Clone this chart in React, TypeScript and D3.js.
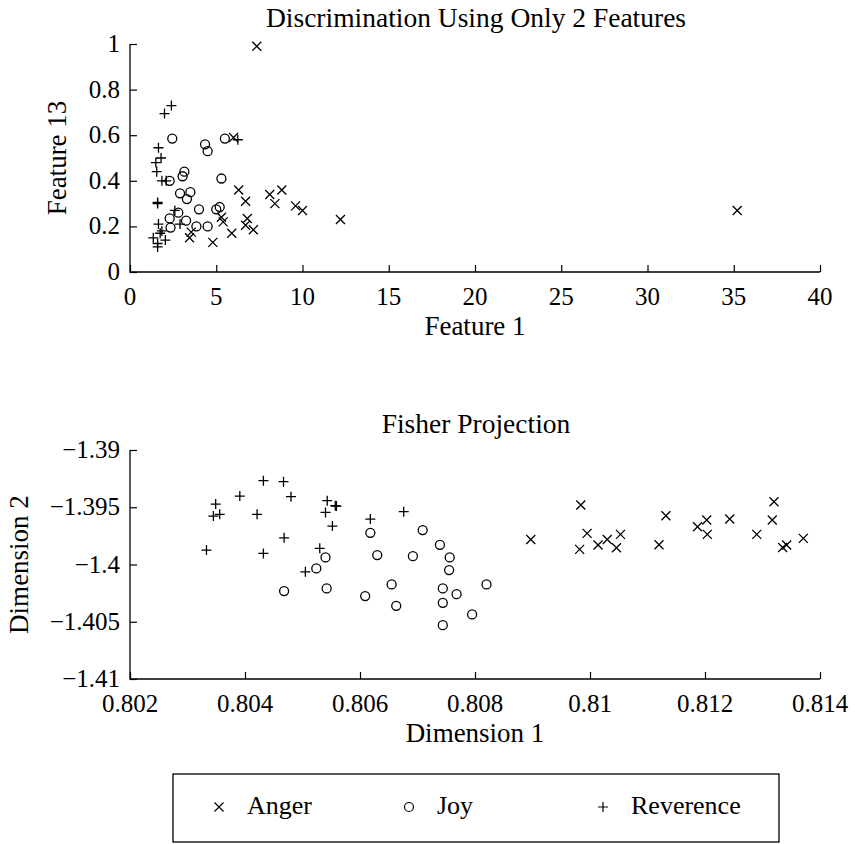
import React, { useEffect, useRef } from "react";
import * as d3 from "d3";

// top plot: Feature 1 vs Feature 13
const topAnger = [
  [7.35, 0.99], [35.2, 0.27], [12.2, 0.23], [6.0, 0.59], [6.3, 0.36],
  [8.1, 0.34], [8.8, 0.36], [6.7, 0.31], [8.4, 0.3], [9.6, 0.29],
  [10.0, 0.27], [5.3, 0.24], [5.4, 0.22], [6.8, 0.235], [6.7, 0.205],
  [7.15, 0.185], [5.9, 0.17], [4.8, 0.13], [3.45, 0.15], [3.55, 0.175],
];
const topJoy = [
  [2.45, 0.585], [4.35, 0.56], [4.5, 0.53], [5.5, 0.585], [3.15, 0.44],
  [3.05, 0.42], [5.3, 0.41], [2.3, 0.4], [2.9, 0.345], [3.5, 0.35],
  [3.3, 0.32], [2.8, 0.26], [4.0, 0.275], [5.0, 0.275], [5.2, 0.285],
  [2.3, 0.235], [3.25, 0.225], [2.35, 0.195], [3.85, 0.2], [4.5, 0.2],
];
const topReverence = [
  [2.4, 0.73], [2.0, 0.695], [6.25, 0.58], [1.65, 0.545], [1.8, 0.5],
  [1.5, 0.48], [1.55, 0.44], [1.85, 0.4], [2.1, 0.4], [1.6, 0.305],
  [1.6, 0.3], [2.6, 0.27], [2.9, 0.21], [1.65, 0.21], [1.85, 0.18],
  [1.75, 0.17], [1.35, 0.15], [2.05, 0.14], [1.6, 0.11], [1.6, 0.125],
];

// bottom plot: Fisher projection
const fisherAnger = [
  [0.80897, -1.39781], [0.80984, -1.39481], [0.80995, -1.39728], [0.80982, -1.39868],
  [0.81014, -1.3983], [0.8103, -1.39781], [0.81053, -1.39737], [0.81046, -1.39854],
  [0.8112, -1.39828], [0.81132, -1.39574], [0.81187, -1.3967], [0.81203, -1.39612],
  [0.81204, -1.39737], [0.81243, -1.39603], [0.8129, -1.39737], [0.8132, -1.39452],
  [0.81317, -1.39612], [0.81335, -1.39851], [0.81342, -1.3983], [0.81371, -1.39772],
];
const fisherJoy = [
  [0.80618, -1.39723], [0.80709, -1.39699], [0.80739, -1.39828], [0.80756, -1.39938],
  [0.80755, -1.40049], [0.8063, -1.39918], [0.80692, -1.39927], [0.8054, -1.39938],
  [0.80524, -1.40034], [0.80468, -1.40232], [0.80542, -1.40209], [0.80609, -1.40276],
  [0.80655, -1.40174], [0.80663, -1.40361], [0.80744, -1.40209], [0.80768, -1.40259],
  [0.80744, -1.40335], [0.80795, -1.40436], [0.80744, -1.4053], [0.8082, -1.40174],
];
const fisherReverence = [
  [0.80432, -1.39268], [0.80467, -1.39277], [0.80391, -1.39402], [0.8048, -1.39408],
  [0.80349, -1.39472], [0.80345, -1.39577], [0.80356, -1.39562], [0.80421, -1.39562],
  [0.80543, -1.39443], [0.80557, -1.39487], [0.80559, -1.3949], [0.8054, -1.39545],
  [0.80552, -1.39664], [0.80618, -1.39603], [0.80676, -1.39539], [0.80468, -1.39767],
  [0.80333, -1.39874], [0.80432, -1.39903], [0.8053, -1.39859], [0.80505, -1.40064],
];

const topXTicks = [0, 5, 10, 15, 20, 25, 30, 35, 40];
const topYTicks = [0, 0.2, 0.4, 0.6, 0.8, 1];
const fisherXTicks = [0.802, 0.804, 0.806, 0.808, 0.81, 0.812, 0.814];
const fisherYTicks = [-1.41, -1.405, -1.4, -1.395, -1.39];

const legendItems = ["Anger", "Joy", "Reverence"];

const FONT = "Liberation Serif, Times New Roman, serif";

const markerPath = (kind, r) => {
  if (kind === "x") return `M${-r},${-r}L${r},${r}M${-r},${r}L${r},${-r}`;
  if (kind === "+") return `M${-r},0H${r}M0,${-r}V${r}`;
  return null;
};

const App = () => {
  const ref = useRef(null);

  useEffect(() => {
    const svg = d3.select(ref.current);
    svg.selectAll("*").remove();

    const fmt = (d) => String(+d.toFixed(3)).replace("-", "\u2212");

    const drawPanel = (cfg) => {
      const x = d3.scaleLinear().domain(cfg.xDomain).range([130, 820]);
      const y = d3.scaleLinear().domain(cfg.yDomain).range([cfg.bottom, cfg.top]);
      const g = svg.append("g");

      // axis lines
      g.append("path")
        .attr("d", `M130,${cfg.top}V${cfg.bottom}H820`)
        .attr("fill", "none")
        .attr("stroke", "#000")
        .attr("stroke-width", 1.3);

      // inward ticks
      const xAxis = d3.axisTop(x).tickValues(cfg.xTicks).tickSize(7).tickFormat(() => "");
      g.append("g").attr("transform", `translate(0,${cfg.bottom})`).call(xAxis)
        .call((s) => s.select(".domain").remove())
        .call((s) => s.selectAll("line").attr("stroke-width", 1.2));
      const yAxis = d3.axisRight(y).tickValues(cfg.yTicks).tickSize(7).tickFormat(() => "");
      g.append("g").attr("transform", "translate(130,0)").call(yAxis)
        .call((s) => s.select(".domain").remove())
        .call((s) => s.selectAll("line").attr("stroke-width", 1.2));

      // tick labels
      g.selectAll(".xl").data(cfg.xTicks).enter().append("text")
        .attr("x", (d) => x(d)).attr("y", cfg.bottom + 33)
        .attr("text-anchor", "middle")
        .attr("font-family", FONT).attr("font-size", 25)
        .text(fmt);
      g.selectAll(".yl").data(cfg.yTicks).enter().append("text")
        .attr("x", 120).attr("y", (d) => y(d) + 8)
        .attr("text-anchor", "end")
        .attr("font-family", FONT).attr("font-size", 25)
        .text(fmt);

      // titles
      g.append("text").attr("x", 476).attr("y", cfg.top - 17)
        .attr("text-anchor", "middle")
        .attr("font-family", FONT).attr("font-size", 27.5)
        .text(cfg.title);
      g.append("text").attr("x", 475).attr("y", cfg.bottom + 63)
        .attr("text-anchor", "middle")
        .attr("font-family", FONT).attr("font-size", 27)
        .text(cfg.xLabel);
      g.append("text")
        .attr("transform", `translate(${cfg.yLabelX},${(cfg.top + cfg.bottom) / 2}) rotate(-90)`)
        .attr("text-anchor", "middle")
        .attr("font-family", FONT).attr("font-size", 27)
        .text(cfg.yLabel);

      // markers
      const series = [
        { data: cfg.anger, kind: "x" },
        { data: cfg.joy, kind: "o" },
        { data: cfg.reverence, kind: "+" },
      ];
      series.forEach((s) => {
        const sel = g.append("g").selectAll("g").data(s.data).enter();
        if (s.kind === "o") {
          sel.append("circle")
            .attr("cx", (d) => x(d[0])).attr("cy", (d) => y(d[1])).attr("r", 4.5)
            .attr("fill", "none").attr("stroke", "#000").attr("stroke-width", 1.3);
        } else {
          sel.append("path")
            .attr("transform", (d) => `translate(${x(d[0])},${y(d[1])})`)
            .attr("d", markerPath(s.kind, s.kind === "x" ? 4.5 : 5))
            .attr("fill", "none").attr("stroke", "#000").attr("stroke-width", 1.3);
        }
      });
    };

    drawPanel({
      xDomain: [0, 40], yDomain: [0, 1], top: 44, bottom: 272,
      xTicks: topXTicks, yTicks: topYTicks,
      title: "Discrimination Using Only 2 Features",
      xLabel: "Feature 1", yLabel: "Feature 13", yLabelX: 66,
      anger: topAnger, joy: topJoy, reverence: topReverence,
    });

    drawPanel({
      xDomain: [0.802, 0.814], yDomain: [-1.41, -1.39], top: 450, bottom: 679,
      xTicks: fisherXTicks, yTicks: fisherYTicks,
      title: "Fisher Projection",
      xLabel: "Dimension 1", yLabel: "Dimension 2", yLabelX: 28,
      anger: fisherAnger, joy: fisherJoy, reverence: fisherReverence,
    });

    // legend
    const lg = svg.append("g");
    lg.append("rect").attr("x", 173).attr("y", 774).attr("width", 606).attr("height", 68)
      .attr("fill", "none").attr("stroke", "#000").attr("stroke-width", 1.3);
    const markerX = [219, 409, 603];
    const kinds = ["x", "o", "+"];
    legendItems.forEach((name, i) => {
      if (kinds[i] === "o") {
        lg.append("circle").attr("cx", markerX[i]).attr("cy", 807).attr("r", 4.5)
          .attr("fill", "none").attr("stroke", "#000").attr("stroke-width", 1.2);
      } else {
        lg.append("path").attr("transform", `translate(${markerX[i]},807)`)
          .attr("d", markerPath(kinds[i], kinds[i] === "x" ? 4.5 : 5))
          .attr("fill", "none").attr("stroke", "#000").attr("stroke-width", 1.2);
      }
      lg.append("text").attr("x", markerX[i] + 28).attr("y", 814)
        .attr("font-family", FONT).attr("font-size", 26)
        .text(name);
    });
  }, []);

  return (
    <svg
      ref={ref}
      width={855}
      height={844}
      style={{ position: "absolute", left: 0, top: 0, background: "#fff" }}
    />
  );
};

export default App;
